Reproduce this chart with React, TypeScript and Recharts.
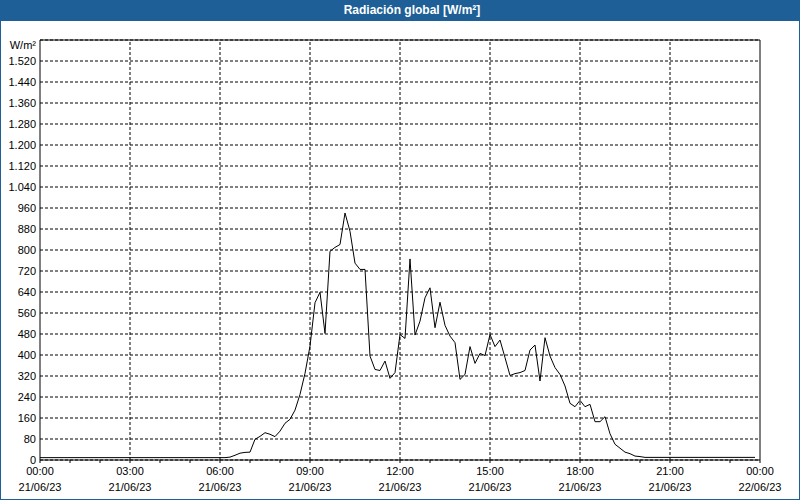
import React from 'react';
import { LineChart, Line, XAxis, YAxis, CartesianGrid, ReferenceLine } from 'recharts';

// time in minutes since 21/06/23 00:00
const times = [
  0, 370, 380, 390, 400, 410, 420, 430, 440, 450, 460, 470, 480, 490, 500, 510, 520, 530, 540,
  550, 560, 570, 580, 590, 600, 610, 620, 630, 640, 650, 660, 670, 680, 690, 700, 710, 720,
  730, 740, 750, 760, 770, 780, 790, 800, 810, 820, 830, 840, 850, 860, 870, 880, 890, 900,
  910, 920, 930, 940, 950, 960, 970, 980, 990, 1000, 1010, 1020, 1030, 1040, 1050, 1060, 1070,
  1080, 1090, 1100, 1110, 1120, 1130, 1140, 1150, 1160, 1170, 1180, 1190, 1200, 1210, 1430,
];
// Radiación global W/m²
const radiation = [
  9, 9, 11, 18, 26, 29, 30, 79, 90, 104, 98, 89, 110, 140, 155, 190, 250, 330, 434,
  599, 639, 482, 795, 810, 821, 941, 871, 750, 726, 726, 396, 345, 341, 377, 311, 333, 478,
  463, 766, 476, 529, 618, 656, 504, 601, 513, 472, 447, 307, 326, 432, 368, 406, 398, 478,
  432, 457, 390, 322, 329, 333, 341, 419, 438, 301, 466, 396, 352, 326, 282, 216, 203,
  227, 203, 212, 146, 146, 165, 100, 60, 45, 30, 24, 15, 13, 10, 10,
];

const hourTicks = [0, 60, 120, 180, 240, 300, 360, 420, 480, 540, 600, 660, 720, 780, 840, 900, 960, 1020, 1080, 1140, 1200, 1260, 1320, 1380, 1440];
const majorTicks = [180, 360, 540, 720, 900, 1080, 1260];
const hourLabels: Record<number, string> = { 0: '00:00', 180: '03:00', 360: '06:00', 540: '09:00', 720: '12:00', 900: '15:00', 1080: '18:00', 1260: '21:00', 1440: '00:00' };
const dateLabels: Record<number, string> = { 0: '21/06/23', 180: '21/06/23', 360: '21/06/23', 540: '21/06/23', 720: '21/06/23', 900: '21/06/23', 1080: '21/06/23', 1260: '21/06/23', 1440: '22/06/23' };
const yTicks = [0, 80, 160, 240, 320, 400, 480, 560, 640, 720, 800, 880, 960, 1040, 1120, 1200, 1280, 1360, 1440, 1520, 1600];

const data = times.map((t, i) => ({ t, v: radiation[i] }));

const FONT = '"Liberation Sans", Arial, sans-serif';
const BLUE = '#1d5f96';

const fmtY = (v: number) => {
  if (v === 1600) return 'W/m²';
  if (v >= 1000) return `${Math.floor(v / 1000)}.${String(v % 1000).padStart(3, '0')}`;
  return String(v);
};

const XTick = (props: any) => {
  const { x, y, payload } = props;
  const val = payload.value;
  if (hourLabels[val] === undefined) return null;
  return (
    <text x={x} y={y} textAnchor="middle" fill="#000" fontSize={11} fontFamily={FONT}>
      <tspan x={x} dy={10}>{hourLabels[val]}</tspan>
      <tspan x={x} dy={16}>{dateLabels[val]}</tspan>
    </text>
  );
};

const YTick = (props: any) => {
  const { x, y, payload } = props;
  const val = payload.value;
  return (
    <text x={x} y={val === 1600 ? y + 5 : y} dy={4} textAnchor="end" fill="#000" fontSize={11} fontFamily={FONT}>
      {fmtY(val)}
    </text>
  );
};

export default function App() {
  return (
    <div style={{ position: 'absolute', left: 0, top: 0, width: 800, height: 500, background: '#fff', boxSizing: 'border-box', border: `1px solid ${BLUE}` }}>
      <div style={{ position: 'absolute', left: -1, top: -1, width: 800, height: 21, background: BLUE }}>
        <div style={{ position: 'absolute', left: 0, top: 0, width: 824, height: 21, lineHeight: '21px', textAlign: 'center', color: '#fff', fontWeight: 'bold', fontSize: 12, fontFamily: FONT }}>
          Radiación global [W/m²]
        </div>
      </div>
      <div style={{ position: 'absolute', left: -1, top: -1 }}>
        <LineChart width={800} height={500} data={data} margin={{ top: 40, right: 40, bottom: 0, left: 0 }}>
          <CartesianGrid vertical={false} stroke="#000" strokeDasharray="3 2" />
          <XAxis
            dataKey="t"
            type="number"
            domain={[0, 1440]}
            ticks={hourTicks}
            interval={0}
            height={40}
            tickSize={3}
            tickMargin={2}
            stroke="#000"
            tickLine={{ stroke: '#000' }}
            tick={<XTick />}
          />
          <YAxis
            type="number"
            domain={[0, 1600]}
            ticks={yTicks}
            interval={0}
            width={40}
            tickLine={false}
            tickSize={2}
            tickMargin={2}
            stroke="#000"
            tick={<YTick />}
          />
          {majorTicks.map((m) => (
            <ReferenceLine key={m} x={m} stroke="#000" strokeDasharray="3 2" />
          ))}
          <ReferenceLine y={1600} stroke="#000" />
          <ReferenceLine x={1440} stroke="#000" />
          <Line type="linear" dataKey="v" stroke="#000" strokeWidth={1} dot={false} isAnimationActive={false} />
        </LineChart>
      </div>
    </div>
  );
}
